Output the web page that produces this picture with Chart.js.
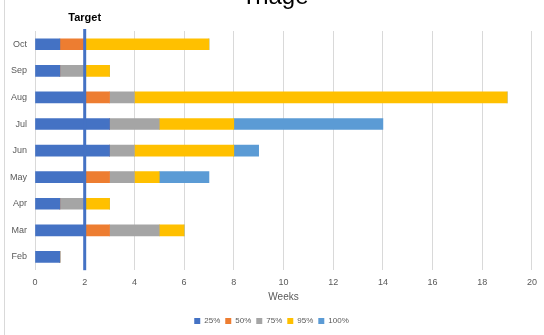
<!DOCTYPE html>
<html>
<head>
<meta charset="utf-8">
<script src="https://cdn.jsdelivr.net/npm/chart.js@4"></script>
<style>
  html, body { margin: 0; padding: 0; background: #fff; }
  #wrap { width: 544px; height: 335px; position: relative; }
</style>
</head>
<body>
<div id="wrap"><canvas id="triageChart"></canvas></div>
<script>
// months, top to bottom
const months = ['Oct', 'Sep', 'Aug', 'Jul', 'Jun', 'May', 'Apr', 'Mar', 'Feb'];
// weeks added by each percentile band (stacked segments)
const p25  = [1, 1, 2, 3, 3, 2, 1, 2, 1];
const p50  = [1, 0, 1, 0, 0, 1, 0, 1, 0];
const p75  = [0, 1, 1, 2, 1, 1, 1, 2, 0];
const p95  = [5, 1, 15, 3, 4, 1, 1, 1, 0];
const p100 = [0, 0, 0, 6, 1, 2, 0, 0, 0];
const targetWeeks = 2;
const xTicks = [0, 2, 4, 6, 8, 10, 12, 14, 16, 18, 20];

const grey = '#595959';
const fontFam = "'Liberation Sans', Arial, sans-serif";

// title (cut off at the top like the original) + target line
const extras = {
  id: 'extras',
  afterDraw(chart) {
    const c = chart.ctx;
    const area = chart.chartArea;
    const x = chart.scales.x.getPixelForValue(targetWeeks);
    c.save();
    // left frame line
    c.strokeStyle = '#d9d9d9';
    c.lineWidth = 1;
    c.beginPath();
    c.moveTo(4.5, 0);
    c.lineTo(4.5, 335);
    c.stroke();
    // target
    c.strokeStyle = '#4472C4';
    c.lineWidth = 3;
    c.beginPath();
    c.moveTo(x, area.top - 2);
    c.lineTo(x, area.bottom);
    c.stroke();
    c.fillStyle = '#000';
    c.font = "bold 11px " + fontFam;
    c.textAlign = 'center';
    c.textBaseline = 'alphabetic';
    c.fillText('Target', x, 21);
    // title
    c.font = "24px " + fontFam;
    c.fillStyle = '#000';
    c.fillText('Triage', 275, 4);
    c.restore();
  }
};

function ds(label, data, color) {
  return { label, data, backgroundColor: color, borderWidth: 0, barThickness: 11 };
}

new Chart(document.getElementById('triageChart').getContext('2d'), {
  type: 'bar',
  data: {
    labels: months,
    datasets: [
      ds('25%', p25, '#4472C4'),
      ds('50%', p50, '#ED7D31'),
      ds('75%', p75, '#A5A5A5'),
      ds('95%', p95, '#FFC000'),
      ds('100%', p100, '#5B9BD5')
    ]
  },
  options: {
    indexAxis: 'y',
    responsive: true,
    maintainAspectRatio: false,
    animation: false,
    layout: { padding: { top: 31, left: 2, right: 3, bottom: 0 } },
    plugins: {
      legend: {
        position: 'bottom',
        labels: {
          color: grey,
          font: { family: fontFam, size: 8 },
          boxWidth: 6,
          boxHeight: 6,
          padding: 5
        }
      },
      tooltip: { enabled: false }
    },
    scales: {
      x: {
        stacked: true,
        min: 0,
        max: 20,
        afterBuildTicks(axis) { axis.ticks = xTicks.map(v => ({ value: v })); },
        grid: { color: '#d9d9d9', drawTicks: false },
        border: { display: false },
        ticks: { color: grey, font: { family: fontFam, size: 9 }, padding: 7 },
        title: { display: true, text: 'Weeks', color: grey, font: { family: fontFam, size: 10 }, padding: { top: -4, bottom: 9 } }
      },
      y: {
        stacked: true,
        grid: { display: false, drawTicks: false },
        border: { display: false },
        ticks: { color: grey, font: { family: fontFam, size: 9 }, padding: 8 }
      }
    }
  },
  plugins: [extras]
});
</script>
</body>
</html>
